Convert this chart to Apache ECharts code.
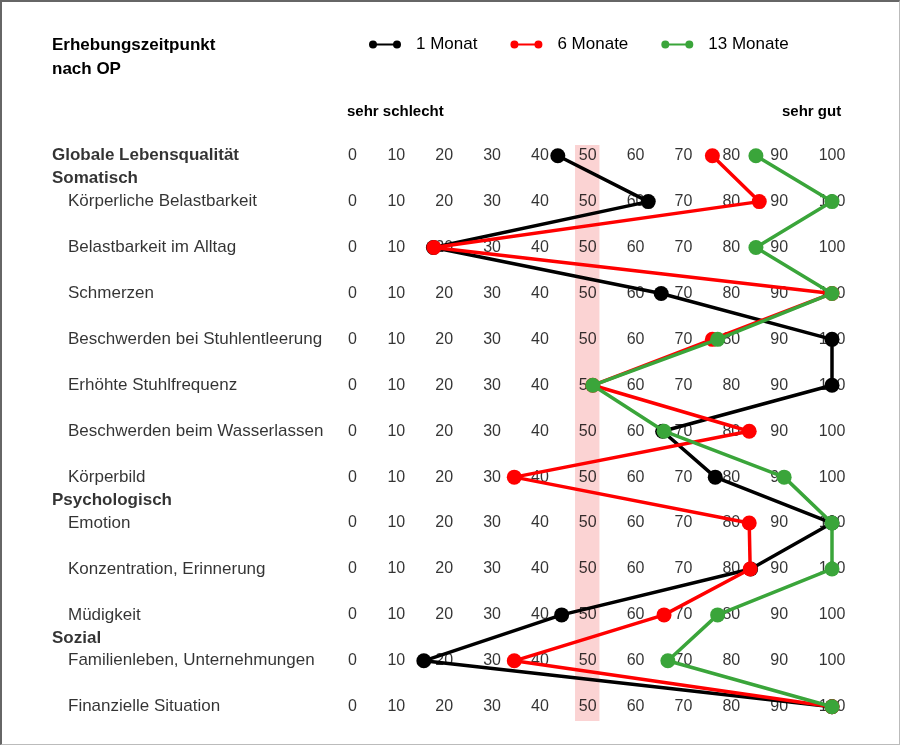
<!DOCTYPE html>
<html>
<head>
<meta charset="utf-8">
<script src="https://cdn.jsdelivr.net/npm/echarts@6/dist/echarts.min.js"></script>
<style>
  html, body { margin: 0; padding: 0; background: #fff; }
  #wrap { position: relative; width: 900px; height: 745px; }
  #chart { width: 900px; height: 745px; }
  #frame {
    position: absolute; left: 0; top: 0; width: 900px; height: 745px; box-sizing: border-box;
    border: 1px solid #bbb; border-top: 2px solid #666; border-left: 2px solid #666;
    pointer-events: none;
  }
</style>
</head>
<body>
<div id="wrap"><div id="chart"></div><div id="frame"></div></div>
<script>
// rows of the profile, top to bottom
const rows = [
  'Globale Lebensqualität',
  'Körperliche Belastbarkeit',
  'Belastbarkeit im Alltag',
  'Schmerzen',
  'Beschwerden bei Stuhlentleerung',
  'Erhöhte Stuhlfrequenz',
  'Beschwerden beim Wasserlassen',
  'Körperbild',
  'Emotion',
  'Konzentration, Erinnerung',
  'Müdigkeit',
  'Familienleben, Unternehmungen',
  'Finanzielle Situation'
];
const boldRows = ['Globale Lebensqualität'];
// group headings sit between rows
const groups = ['Somatisch', 'Psychologisch', 'Sozial'];
const groupPos = [0.5, 7.5, 10.5];

const ticks = [0, 10, 20, 30, 40, 50, 60, 70, 80, 90, 100];

const seriesNames = ['1 Monat', '6 Monate', '13 Monate'];
const colors = ['#000000', '#ff0000', '#3aa53a'];
const monat1 =  [42.7, 61.6, 16.7, 64.3, 100, 100, 64.6, 75.6, 100, 83.0, 43.5, 14.7, 100];
const monate6 = [75.0, 84.8, 16.8, 100, 75.0, 50, 82.7, 33.6, 82.7, 82.9, 64.9, 33.6, 100];
const monate13 = [84.1, 100, 84.1, 100, 76.1, 50, 64.9, 90.0, 100, 100, 76.1, 65.7, 100];
const values = [monat1, monate6, monate13];

// reference band around 50
const band = [46.3, 51.4];

const chart = echarts.init(document.getElementById('chart'));
const font = 'Liberation Sans, Arial, sans-serif';

const legendIcon = 'path://M0,4 A4,4 0 1,1 8,4 A4,4 0 1,1 0,4 Z M4,3 L28,3 L28,5 L4,5 Z M24,4 A4,4 0 1,1 32,4 A4,4 0 1,1 24,4 Z';

const tickData = [];
rows.forEach((r, i) => {
  ticks.forEach(t => {
    const dx = t === 0 ? -1 : (t === 100 ? 0 : -5);
    tickData.push({ value: [t, i], label: { offset: [dx, 0] } });
  });
});

const rowLabelData = rows.map((r, i) => ({
  value: [0, i], name: r,
  label: boldRows.includes(r) ? { fontWeight: 'bold', offset: [-301.5, 0] } : {}
}));
groups.forEach((g, k) => {
  rowLabelData.push({ value: [0, groupPos[k]], name: g, label: { fontWeight: 'bold', offset: [-301.5, 0] } });
});

const lineSeries = seriesNames.map((name, s) => ({
  name: name,
  type: 'line',
  data: values[s].map((v, i) => [v, i]),
  symbol: 'circle',
  symbolSize: 15,
  lineStyle: { color: colors[s], width: 3.5 },
  itemStyle: { color: colors[s] },
  z: 5 + s,
  silent: true
}));

const option = {
  animation: false,
  textStyle: { fontFamily: font },
  title: [
    { text: 'Erhebungszeitpunkt\nnach OP', left: 47, top: 28,
      textStyle: { fontSize: 17, fontWeight: 'bold', color: '#000', lineHeight: 24, fontFamily: font } },
    { text: 'sehr schlecht', left: 342, top: 99,
      textStyle: { fontSize: 15, fontWeight: 'bold', color: '#000', fontFamily: font } },
    { text: 'sehr gut', left: 777, top: 99,
      textStyle: { fontSize: 15, fontWeight: 'bold', color: '#000', fontFamily: font } }
  ],
  legend: {
    data: seriesNames,
    left: 364, top: 31,
    icon: legendIcon,
    itemWidth: 32, itemHeight: 8,
    itemGap: 33,
    textStyle: { fontSize: 17, color: '#000', fontFamily: font, padding: [0, 0, 0, 10] }
  },
  grid: { left: 353.5, width: 478.5, top: 145, height: 576 },
  xAxis: { type: 'value', min: 0, max: 100, show: false },
  yAxis: { type: 'value', inverse: true, min: -0.233, max: 12.311, show: false },
  series: [
    {
      name: 'band',
      type: 'line',
      data: [],
      silent: true,
      z: 1,
      markArea: {
        silent: true,
        itemStyle: { color: '#fbd3d3' },
        data: [[{ xAxis: band[0] }, { xAxis: band[1] }]]
      }
    },
    {
      name: 'ticks',
      type: 'scatter',
      data: tickData,
      symbolSize: 1,
      itemStyle: { color: 'rgba(0,0,0,0)' },
      silent: true,
      z: 2,
      label: {
        show: true, position: 'inside',
        formatter: p => String(p.value[0]),
        fontSize: 16, color: '#000', fontFamily: font
      }
    },
    {
      name: 'rowLabels',
      type: 'scatter',
      data: rowLabelData,
      symbolSize: 1,
      itemStyle: { color: 'rgba(0,0,0,0)' },
      silent: true,
      z: 2,
      label: {
        show: true, position: 'inside', align: 'left', offset: [-285.5, 0],
        formatter: p => p.name,
        fontSize: 17, color: '#000', fontFamily: font
      }
    },
    ...lineSeries
  ]
};
chart.setOption(option);
</script>
</body>
</html>
